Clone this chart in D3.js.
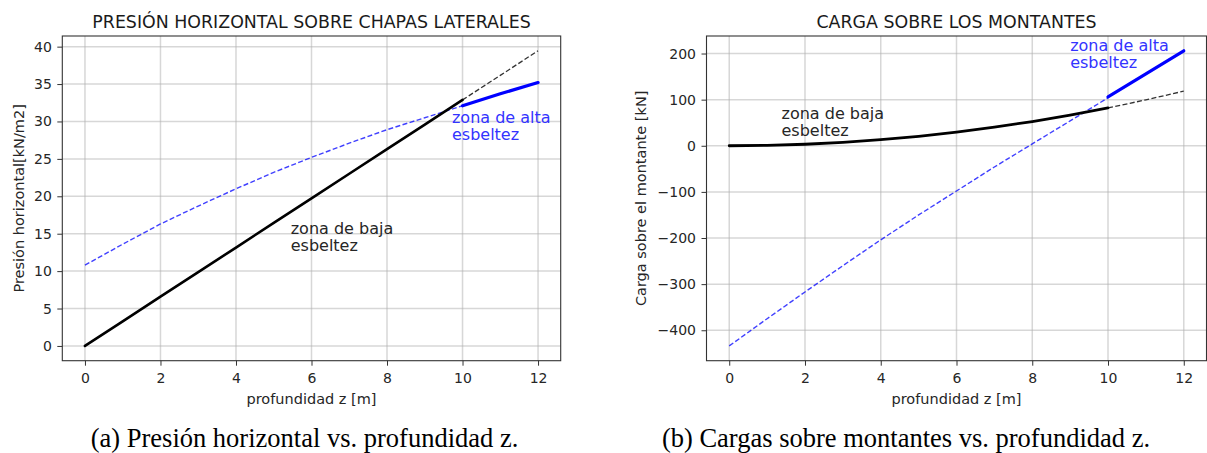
<!DOCTYPE html>
<html>
<head>
<meta charset="utf-8">
<script src="https://cdn.jsdelivr.net/npm/d3@7"></script>
<style>
  body { margin: 0; background: #fff; }
  svg text { font-family: "DejaVu Sans", sans-serif; }
  .caption { font-family: "Liberation Serif", "Times New Roman", serif !important; }
</style>
</head>
<body>
<svg id="canvas"></svg>
<script>
// depth z [m]
const zBaja = [0, 1, 2, 3, 4, 5, 6, 7, 8, 9, 10];
const zAlta = [10, 11, 12];
const xTicks = [0, 2, 4, 6, 8, 10, 12];

// (a) horizontal pressure [kN/m2]
const presionBaja = [0, 3.29, 6.58, 9.86, 13.15, 16.44, 19.73, 23.01, 26.3, 29.59, 32.88];
const presionBajaExt = [32.88, 36.16, 39.45];
const presionAltaExt = [10.8, 13.6, 16.3, 18.7, 21.0, 23.2, 25.2, 27.1, 28.9, 30.5, 32.1];
const presionAlta = [32.1, 33.7, 35.2];
const presionTicks = [0, 5, 10, 15, 20, 25, 30, 35, 40];

// (b) load on the uprights [kN]
const cargaBaja = [0, 0.8, 3.3, 7.4, 13.2, 20.6, 29.6, 40.3, 52.6, 66.6, 82.2];
const cargaBajaExt = [82.2, 99.5, 118.4];
const cargaAltaExt = [-434, -375, -317, -260, -204, -150, -98, -46, 4, 54, 104];
const cargaAlta = [106, 156, 206];
const cargaTicks = [-400, -300, -200, -100, 0, 100, 200];

const width = 1207;
const height = 453;

const svg = d3.select('#canvas')
  .attr('width', width)
  .attr('height', height);

function drawPanel(opt) {
  const x = d3.scaleLinear().domain([-0.6, 12.6]).range([opt.left, opt.right]);

  // matplotlib style 5% margin around the data
  const all = opt.series.flatMap(s => s.values);
  const [lo, hi] = d3.extent(all);
  const pad = (hi - lo) * 0.05;
  const y = d3.scaleLinear().domain([lo - pad, hi + pad]).range([opt.bottom, opt.top]);

  const g = svg.append('g');

  // grid
  g.append('g').selectAll('line')
    .data(opt.xTicks).enter().append('line')
    .attr('x1', d => x(d)).attr('x2', d => x(d))
    .attr('y1', opt.top).attr('y2', opt.bottom)
    .attr('stroke', '#b0b0b0').attr('stroke-opacity', 0.5).attr('stroke-width', 1.5);
  g.append('g').selectAll('line')
    .data(opt.yTicks).enter().append('line')
    .attr('y1', d => y(d)).attr('y2', d => y(d))
    .attr('x1', opt.left).attr('x2', opt.right)
    .attr('stroke', '#b0b0b0').attr('stroke-opacity', 0.5).attr('stroke-width', 1.5);

  // lines
  const line = d3.line().x(d => x(d[0])).y(d => y(d[1]));
  opt.series.forEach(s => {
    g.append('path')
      .datum(d3.zip(s.z, s.values))
      .attr('d', line)
      .attr('fill', 'none')
      .attr('stroke', s.color)
      .attr('stroke-opacity', s.opacity || 1)
      .attr('stroke-width', s.width)
      .attr('stroke-dasharray', s.dash || null)
      .attr('stroke-linecap', s.dash ? 'butt' : 'round');
  });

  // axes
  const fmt = d => d < 0 ? '\u2212' + Math.abs(d) : String(d);
  const xAxis = g.append('g')
    .attr('transform', `translate(0,${opt.bottom})`)
    .call(d3.axisBottom(x).tickValues(opt.xTicks).tickSize(5).tickPadding(7).tickFormat(fmt));
  const yAxis = g.append('g')
    .attr('transform', `translate(${opt.left},0)`)
    .call(d3.axisLeft(y).tickValues(opt.yTicks).tickSize(5).tickPadding(5.5).tickFormat(fmt));
  [xAxis, yAxis].forEach(a => {
    a.select('.domain').remove();
    a.selectAll('line').attr('stroke', '#333');
    a.selectAll('text').attr('fill', '#262626').style('font-size', '14px').style('font-family', '"DejaVu Sans", sans-serif');
  });

  // frame
  g.append('rect')
    .attr('x', opt.left).attr('y', opt.top)
    .attr('width', opt.right - opt.left).attr('height', opt.bottom - opt.top)
    .attr('fill', 'none').attr('stroke', '#333').attr('stroke-width', 1.1);

  // annotations (two lines each)
  opt.notes.forEach(n => {
    n.lines.forEach((l, i) => {
      g.append('text')
        .attr('x', x(n.x)).attr('y', y(n.y) + i * 17)
        .attr('fill', n.color)
        .style('font-size', '16px')
        .text(l);
    });
  });

  const cx = (opt.left + opt.right) / 2;
  g.append('text')
    .attr('x', cx).attr('y', opt.top - 8.5)
    .attr('text-anchor', 'middle').attr('fill', '#1a1a1a')
    .style('font-size', '17.4px')
    .text(opt.title);

  g.append('text')
    .attr('x', cx).attr('y', 404)
    .attr('text-anchor', 'middle').attr('fill', '#262626')
    .style('font-size', '14.5px')
    .text('profundidad z [m]');

  g.append('text')
    .attr('transform', `translate(${opt.yLabelX},${(opt.top + opt.bottom) / 2}) rotate(-90)`)
    .attr('text-anchor', 'middle').attr('fill', '#262626')
    .style('font-size', '14.5px')
    .text(opt.yLabel);

  svg.append('text')
    .attr('class', 'caption')
    .attr('x', opt.captionX).attr('y', 447)
    .attr('text-anchor', 'middle').attr('fill', '#000')
    .style('font-size', '26.5px')
    .text(opt.caption);
}

drawPanel({
  left: 62.3, right: 560.7, top: 36, bottom: 360.7,
  xTicks: xTicks, yTicks: presionTicks,
  series: [
    { z: zBaja, values: presionAltaExt, color: 'blue', width: 1.4, dash: '5,2.4', opacity: 0.75 },
    { z: zAlta, values: presionBajaExt, color: '#333', width: 1.3, dash: '5,2.4' },
    { z: zBaja, values: presionBaja, color: '#000', width: 2.6 },
    { z: zAlta, values: presionAlta, color: 'blue', width: 3.2 }
  ],
  notes: [
    { x: 9.72, y: 29.8, lines: ['zona de alta', 'esbeltez'], color: '#3333ff' },
    { x: 5.45, y: 15.0, lines: ['zona de baja', 'esbeltez'], color: '#262626' }
  ],
  title: 'PRESIÓN HORIZONTAL SOBRE CHAPAS LATERALES',
  yLabel: 'Presión horizontal[kN/m2]', yLabelX: 23.5,
  caption: '(a) Presión horizontal vs. profundidad z.', captionX: 304.5
});

drawPanel({
  left: 706.5, right: 1206.5, top: 36, bottom: 360.7,
  xTicks: xTicks, yTicks: cargaTicks,
  series: [
    { z: zBaja, values: cargaAltaExt, color: 'blue', width: 1.4, dash: '5,2.4', opacity: 0.75 },
    { z: zAlta, values: cargaBajaExt, color: '#333', width: 1.3, dash: '5,2.4' },
    { z: zBaja, values: cargaBaja, color: '#000', width: 2.8 },
    { z: zAlta, values: cargaAlta, color: 'blue', width: 3.2 }
  ],
  notes: [
    { x: 9.0, y: 206, lines: ['zona de alta', 'esbeltez'], color: '#3333ff' },
    { x: 1.38, y: 57.5, lines: ['zona de baja', 'esbeltez'], color: '#262626' }
  ],
  title: 'CARGA SOBRE LOS MONTANTES',
  yLabel: 'Carga sobre el montante [kN]', yLabelX: 645.7,
  caption: '(b) Cargas sobre montantes vs. profundidad z.', captionX: 906
});
</script>
</body>
</html>
